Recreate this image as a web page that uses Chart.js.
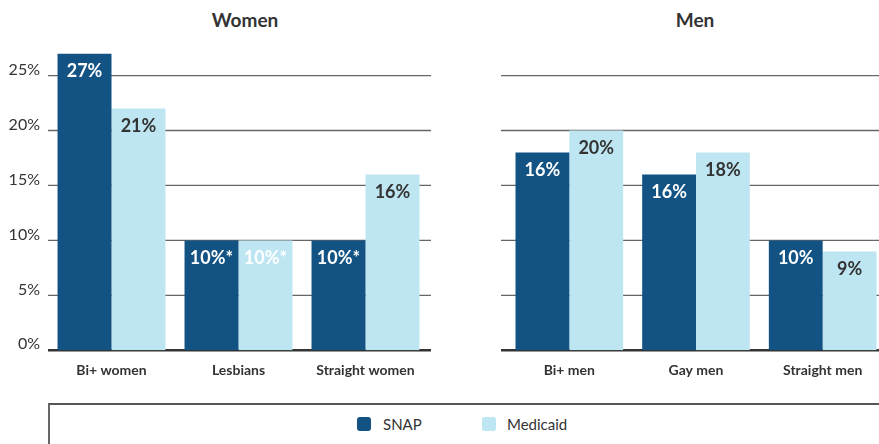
<!DOCTYPE html>
<html>
<head>
<meta charset="utf-8">
<script src="https://cdn.jsdelivr.net/npm/chart.js@4"></script>
<style>
  html, body { margin: 0; padding: 0; background: #fff; overflow: hidden; }
  body { width: 879px; height: 444px; position: relative; font-family: Lato, "Open Sans", sans-serif; color: #333; }
  canvas { position: absolute; top: 0; }
  .title { position: absolute; top: 8px; font-weight: bold; font-size: 19px; transform: translateX(-50%); }
  .legend-box { position: absolute; left: 48px; top: 403px; width: 840px; height: 60px;
                border-top: 2px solid #555; border-left: 2px solid #666; }
  .swatch { position: absolute; top: 417px; width: 14px; height: 14px; border-radius: 3px; }
  .legend-label { position: absolute; top: 415px; font-size: 15px; line-height: 18px; }
</style>
</head>
<body>
<div class="title" style="left:245px">Women</div>
<div class="title" style="left:695px">Men</div>
<canvas id="womenChart" width="440" height="400" style="left:0"></canvas>
<canvas id="menChart" width="446" height="400" style="left:440px"></canvas>
<div class="legend-box"></div>
<div class="swatch" style="left:357px;background:#135384"></div>
<div class="legend-label" style="left:383px">SNAP</div>
<div class="swatch" style="left:482px;background:#bee6f2"></div>
<div class="legend-label" style="left:507px">Medicaid</div>

<script>
// categories
const womenCategories = ['Bi+ women', 'Lesbians', 'Straight women'];
const menCategories = ['Bi+ men', 'Gay men', 'Straight men'];

// bar heights as drawn (percent)
const womenSnap = [27, 10, 10];
const womenMedicaid = [22, 10, 16];
const menSnap = [18, 16, 10];
const menMedicaid = [20, 18, 9];

// printed labels on the bars
const womenSnapLabels = ['27%', '10%*', '10%*'];
const womenMedicaidLabels = ['21%', '10%*', '16%'];
const menSnapLabels = ['16%', '16%', '10%'];
const menMedicaidLabels = ['20%', '18%', '9%'];

// y axis ticks
const yTicks = [0, 5, 10, 15, 20, 25];
const yMax = 27;

const SNAP_COLOR = '#135384';
const MEDICAID_COLOR = '#bee6f2';
const FONT = 'Lato, "Open Sans", sans-serif';

/**
 * Plugin that draws gridlines, tick labels, category labels and bar labels.
 */
function panelPlugin(cfg) {
    return {
        id: 'panel',
        beforeDatasetsDraw(chart) {
            const ctx = chart.ctx;
            const y = chart.scales.y;
            ctx.save();
            yTicks.forEach(v => {
                const py = y.getPixelForValue(v);
                ctx.beginPath();
                ctx.strokeStyle = v === 0 ? '#333' : '#666';
                ctx.lineWidth = v === 0 ? 2.5 : 1.3;
                ctx.moveTo(cfg.gridStart, py);
                ctx.lineTo(cfg.gridEnd, py);
                ctx.stroke();
                if (cfg.showTicks) {
                    ctx.fillStyle = '#333';
                    ctx.font = '16px ' + FONT;
                    ctx.textAlign = 'right';
                    ctx.textBaseline = 'middle';
                    ctx.fillText(v + '%', 40, py - 6);
                }
            });
            ctx.restore();
        },
        afterDatasetsDraw(chart) {
            const ctx = chart.ctx;
            const x = chart.scales.x;
            ctx.save();
            // category labels
            ctx.fillStyle = '#333';
            ctx.font = 'bold 14px ' + FONT;
            ctx.textAlign = 'center';
            ctx.textBaseline = 'middle';
            chart.data.labels.forEach((lab, i) => {
                ctx.fillText(lab, x.getPixelForValue(i), 370);
            });
            // bar labels
            ctx.font = 'bold 18px ' + FONT;
            chart.data.datasets.forEach((ds, di) => {
                const meta = chart.getDatasetMeta(di);
                meta.data.forEach((bar, i) => {
                    ctx.fillStyle = cfg.labelColors[di][i];
                    ctx.fillText(ds.barLabels[i], bar.x, bar.y + 18);
                });
            });
            ctx.restore();
        }
    };
}

function makePanel(id, categories, snap, medicaid, snapLabels, medicaidLabels, cfg) {
    const canvas = document.getElementById(id);
    return new Chart(canvas, {
        type: 'bar',
        data: {
            labels: categories,
            datasets: [
                { label: 'SNAP', data: snap, barLabels: snapLabels, backgroundColor: SNAP_COLOR },
                { label: 'Medicaid', data: medicaid, barLabels: medicaidLabels, backgroundColor: MEDICAID_COLOR }
            ]
        },
        options: {
            responsive: false,
            animation: false,
            devicePixelRatio: 1,
            categoryPercentage: 0.85,
            barPercentage: 1,
            layout: { padding: cfg.padding },
            plugins: { legend: { display: false }, tooltip: { enabled: false } },
            scales: {
                x: { display: false },
                y: { display: false, min: 0, max: yMax }
            }
        },
        plugins: [panelPlugin(cfg)]
    });
}

makePanel('womenChart', womenCategories, womenSnap, womenMedicaid, womenSnapLabels, womenMedicaidLabels, {
    padding: { left: 48, right: 11, top: 53.6, bottom: 49.7 },
    gridStart: 48, gridEnd: 431, showTicks: true,
    labelColors: [['#fff', '#fff', '#fff'], ['#333', '#fff', '#333']]
});

makePanel('menChart', menCategories, menSnap, menMedicaid, menSnapLabels, menMedicaidLabels, {
    padding: { left: 66, right: 0, top: 53.6, bottom: 49.7 },
    gridStart: 61, gridEnd: 446, showTicks: false,
    labelColors: [['#fff', '#fff', '#fff'], ['#333', '#333', '#333']]
});
</script>
</body>
</html>
